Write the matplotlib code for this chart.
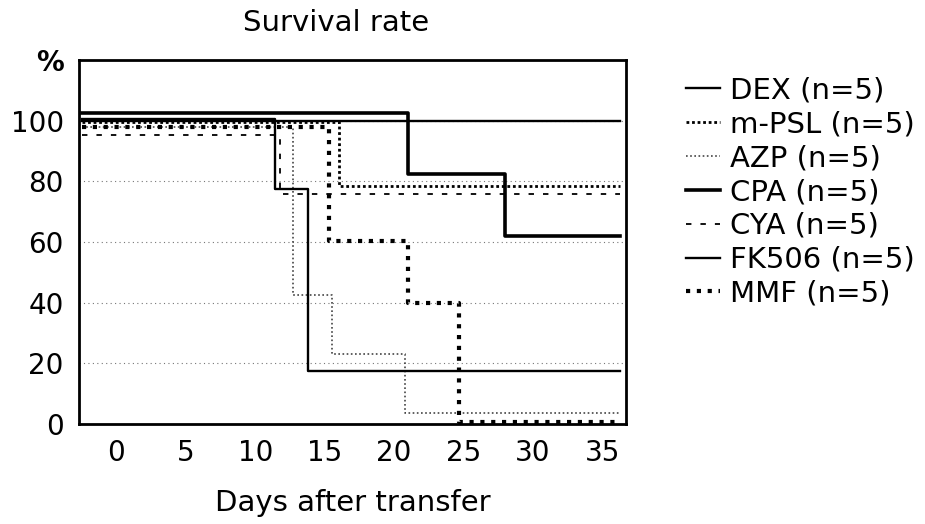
import matplotlib
matplotlib.use("Agg")
import matplotlib.pyplot as plt

# survival curves (step changes, value holds until next day)
dex_days = [-2.5, 36.3]
dex_surv = [100, 100]
mpsl_days = [-2.5, 16.0, 36.3]
mpsl_surv = [99.5, 78.5, 78.5]
azp_days = [-2.5, 12.7, 15.5, 20.8, 36.3]
azp_surv = [98, 42.5, 23, 3.5, 3.5]
cpa_days = [-2.5, 21.0, 28.0, 36.3]
cpa_surv = [102.5, 82.5, 62, 62]
cya_days = [-2.5, 11.8, 36.3]
cya_surv = [95.5, 76, 76]
fk506_days = [-2.5, 11.4, 13.8, 36.3]
fk506_surv = [100.5, 77.5, 17.5, 17.5]
mmf_days = [-2.5, 15.3, 21.0, 24.7, 36.3]
mmf_surv = [98, 60.5, 40, 0.6, 0.6]

x_ticks = [0, 5, 10, 15, 20, 25, 30, 35]
y_ticks = [0, 20, 40, 60, 80, 100, 120]
y_labels = ['0', '20', '40', '60', '80', '100', '%']

plt.rcParams['font.family'] = 'DejaVu Sans'

fig = plt.figure(figsize=(9.25, 5.24), dpi=100)
ax = fig.add_axes([0.0854, 0.191, 0.5914, 0.694])

ax.step(dex_days, dex_surv, where='post', color='black', lw=1.7, label='DEX (n=5)')
ax.step(mpsl_days, mpsl_surv, where='post', color='black', lw=2.0, dashes=(1, 1), label='m-PSL (n=5)')
ax.step(azp_days, azp_surv, where='post', color='#444444', lw=1.2, dashes=(1, 1.5), label='AZP (n=5)')
ax.step(cpa_days, cpa_surv, where='post', color='black', lw=2.6, label='CPA (n=5)')
ax.step(cya_days, cya_surv, where='post', color='black', lw=1.3, dashes=(3, 5), label='CYA (n=5)')
ax.step(fk506_days, fk506_surv, where='post', color='black', lw=1.7, label='FK506 (n=5)')
ax.step(mmf_days, mmf_surv, where='post', color='black', lw=3.0, dashes=(1, 1.6), label='MMF (n=5)')

ax.set_xlim(-2.7, 36.7)
ax.set_ylim(0, 120)
ax.set_xticks(x_ticks)
ax.set_yticks(y_ticks)
ax.set_yticklabels(y_labels)
ax.get_yticklabels()[-1].set_fontweight('bold')
ax.tick_params(axis='both', length=0, labelsize=20)
ax.tick_params(axis='x', pad=11)
ax.tick_params(axis='y', pad=11)
ax.yaxis.grid(True, color='#777777', lw=0.8, linestyle=(0, (1, 3)))
ax.set_axisbelow(True)
for sp in ax.spines.values():
    sp.set_linewidth(2)

ax.set_title('Survival rate', fontsize=21, pad=21, x=0.47)
ax.set_xlabel('Days after transfer', fontsize=21, labelpad=16)

fig.legend(loc='upper left', bbox_to_anchor=(0.729, 0.876), frameon=False, fontsize=21,
           handlelength=1.15, handletextpad=0.35, labelspacing=0.2, borderaxespad=0)

fig.savefig('out.png', dpi=100)
